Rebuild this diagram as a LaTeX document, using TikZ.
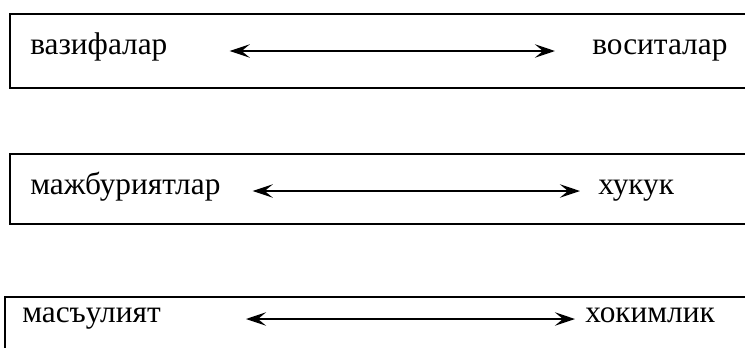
\documentclass[tikz,border=0pt]{standalone}
\usepackage{fontspec}
\setmainfont{Liberation Serif}
\usetikzlibrary{arrows.meta}
\tikzset{
  frame/.style={line width=1.5pt},
  word/.style={inner sep=0pt, anchor=west, font=\fontsize{23.5}{28}\selectfont, text height=0.7em, text depth=0.22em},
  dblarrow/.style={line width=2.1pt, {Stealth[length=15pt,width=10pt,inset=6pt]}-{Stealth[length=15pt,width=10pt,inset=6pt]}}
}
\begin{document}
\begin{tikzpicture}[x=0.75pt,y=-0.75pt]
	\useasboundingbox (0,0) rectangle (745,347);
	\clip (0,0) rectangle (745,347);
	
	\draw[frame] (10,14) rectangle (760,88);
	\draw[frame] (10,154) rectangle (760,224);
	\draw[frame] (5,297) rectangle (760,370);
	
	\node[word] (vaz) at (30,51) {вазифалар};
	\node[word] (vos) at (592,51) {воситалар};
	\node[word] (maj) at (30,191) {мажбуриятлар};
	\node[word] (huq) at (598,191) {хукук};
	\node[word] (mas) at (22,319) {масъулият};
	\node[word] (hok) at (585,319) {хокимлик};
	
	\draw[dblarrow, shorten <=62pt*0.75, shorten >=37pt*0.75] (vaz.east) -- (vos.west);
	\draw[dblarrow, shorten <=32pt*0.75, shorten >=18pt*0.75] (maj.east) -- (huq.west);
	\draw[dblarrow, shorten <=85pt*0.75, shorten >=10pt*0.75] (mas.east) -- (hok.west);
\end{tikzpicture}
\end{document}
